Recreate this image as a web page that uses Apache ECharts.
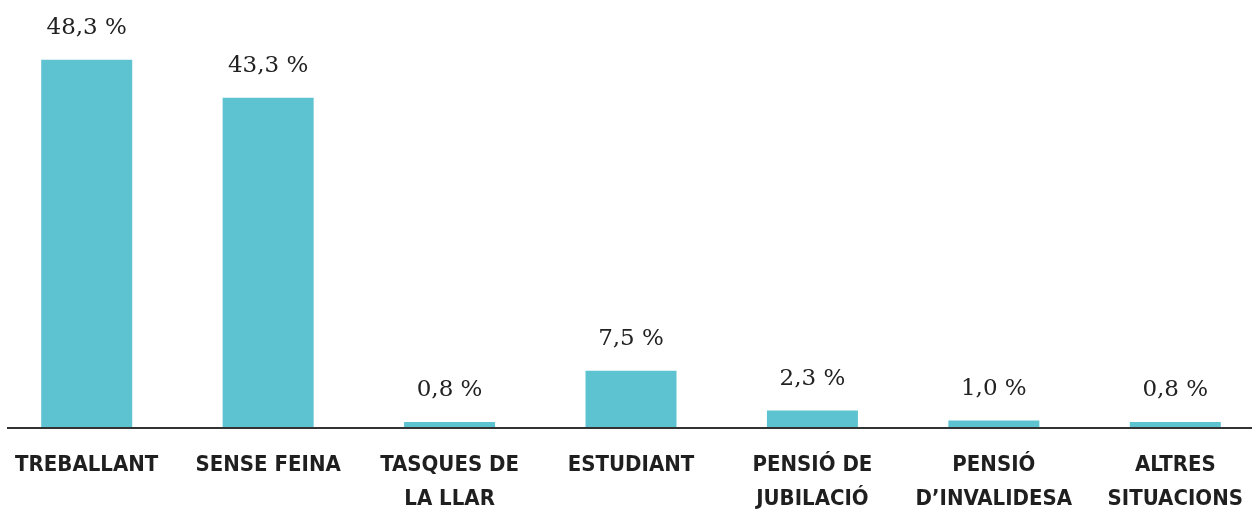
<!DOCTYPE html>
<html>
<head>
<meta charset="utf-8">
<script src="https://cdn.jsdelivr.net/npm/echarts@6/dist/echarts.min.js"></script>
<style>
  html, body { margin: 0; padding: 0; background: #fff; }
  #chart { width: 1252px; height: 512px; }
</style>
</head>
<body>
<div id="chart"></div>
<script>
// categories (etiquetes de l'eix)
var categories = ['TREBALLANT', 'SENSE FEINA', 'TASQUES DE\nLA LLAR', 'ESTUDIANT', 'PENSIÓ DE\nJUBILACIÓ', 'PENSIÓ\nD’INVALIDESA', 'ALTRES\nSITUACIONS'];
// valors en %
var values = [48.3, 43.3, 0.8, 7.5, 2.3, 1.0, 0.8];

var chart = echarts.init(document.getElementById('chart'), null, { renderer: 'canvas' });

var option = {
  animation: false,
  grid: { left: -4, right: -14, top: 1, bottom: 84, outerBoundsMode: 'none' },
  xAxis: {
    type: 'category',
    data: categories,
    axisLine: { show: false },
    axisTick: { show: false },
    axisLabel: {
      interval: 0,
      margin: 20,
      color: '#1f1f1f',
      fontFamily: '"DejaVu Sans Condensed", sans-serif',
      fontWeight: 'bold',
      fontSize: 22,
      lineHeight: 34,
      align: 'center'
    }
  },
  yAxis: {
    type: 'value',
    min: 0,
    max: 56,
    show: false
  },
  series: [{
    type: 'bar',
    data: values,
    barWidth: 91,
    itemStyle: { color: '#5EC3D1' },
    label: {
      show: true,
      position: 'top',
      distance: 20,
      color: '#222',
      fontFamily: '"DejaVu Serif", serif',
      fontSize: 23,
      formatter: function (p) {
        return p.value.toFixed(1).replace('.', ',') + ' %';
      }
    }
  }],
  // línia de base de l'eix
  graphic: [{
    type: 'line',
    z: 100,
    shape: { x1: 7, y1: 428, x2: 1252, y2: 428 },
    style: { stroke: '#333', lineWidth: 2 }
  }]
};

chart.setOption(option);
</script>
</body>
</html>
